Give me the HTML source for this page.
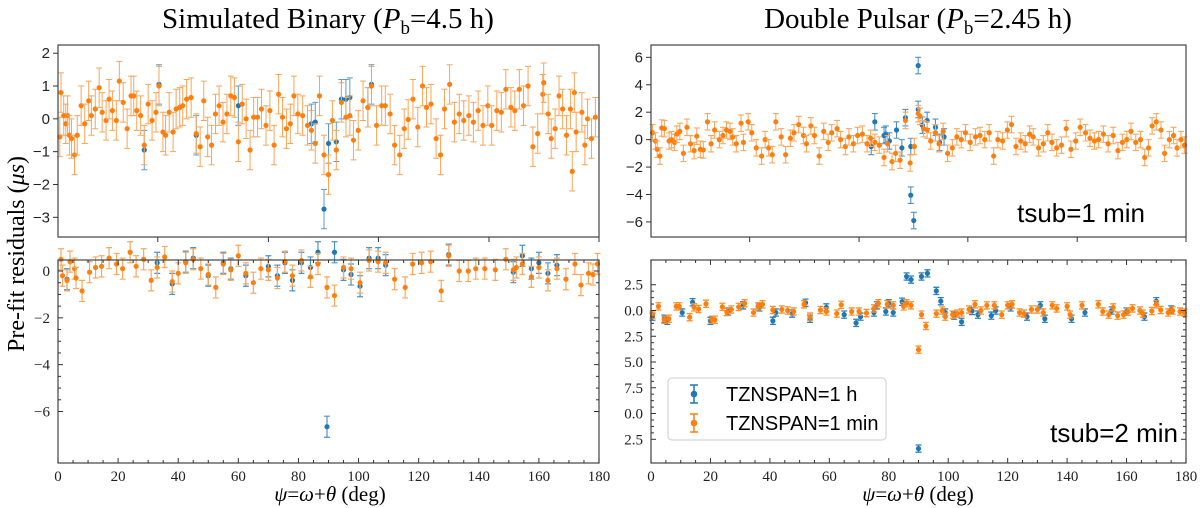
<!DOCTYPE html>
<html><head><meta charset="utf-8">
<style>
html,body{margin:0;padding:0;background:#fff;}
svg{display:block;}
.serif{font-family:"Liberation Serif","DejaVu Serif",serif;}
.sans{font-family:"Liberation Sans","DejaVu Sans",sans-serif;}
</style></head>
<body>
<svg id="fig" width="1200" height="508" viewBox="0 0 1200 508" xmlns="http://www.w3.org/2000/svg">
<text x="328" y="28" text-anchor="middle" class="serif" font-size="29">Simulated Binary (<tspan font-style="italic">P</tspan><tspan font-size="19" dy="6">b</tspan><tspan dy="-6">=4.5 h)</tspan></text>
<text x="918" y="28" text-anchor="middle" class="serif" font-size="29">Double Pulsar (<tspan font-style="italic">P</tspan><tspan font-size="19" dy="6">b</tspan><tspan dy="-6">=2.45 h)</tspan></text>
<text transform="translate(24,254) rotate(-90)" text-anchor="middle" class="serif" font-size="24">Pre-fit residuals (<tspan font-style="italic">μs</tspan>)</text>
<text x="330" y="501" text-anchor="middle" class="serif" font-size="21"><tspan font-style="italic">ψ</tspan>=<tspan font-style="italic">ω</tspan>+<tspan font-style="italic">θ</tspan> (deg)</text>
<text x="918" y="501" text-anchor="middle" class="serif" font-size="21"><tspan font-style="italic">ψ</tspan>=<tspan font-style="italic">ω</tspan>+<tspan font-style="italic">θ</tspan> (deg)</text>
</svg>
<script>
// ---- Panel A: simulated binary, tsub top ----
const aOrangeX=[0.6,1.0,1.9,2.6,3.2,3.8,4.5,5.5,6.4,7.7,8.9,10.2,11.1,12.4,13.7,14.7,16.0,17.0,18.1,19.4,20.4,21.7,23.0,24.3,25.2,26.2,27.5,28.7,30.0,31.3,32.6,33.6,34.9,35.8,37.0,38.3,39.3,40.5,41.5,42.8,44.3,46.0,47.3,48.5,49.8,51.1,52.4,53.6,54.9,56.2,57.5,58.7,60.0,61.3,62.6,63.9,65.1,66.4,67.7,69.2,70.5,71.9,73.4,74.7,76.0,77.3,78.5,79.8,81.4,83.0,84.3,85.6,87.0,88.5,90.0,91.3,92.6,94.3,95.8,97.1,98.3,99.9,101.5,103.1,104.3,106.0,107.7,108.9,110.5,112.0,113.7,115.2,116.5,118.1,119.7,121.3,122.6,124.1,125.8,127.3,128.6,130.3,131.9,133.5,135.0,136.7,138.2,139.8,141.4,143.0,144.3,146.0,147.5,149.0,150.7,152.0,153.5,154.9,156.4,158.0,159.6,161.3,161.6,163.1,164.1,165.4,166.7,167.9,169.2,170.5,171.1,171.8,172.4,174.3,175.3,176.2,177.5,178.8];
const aOrangeY=[-0.55,0.8,0.1,-0.15,0.1,-0.5,-0.6,-1.1,-0.5,0.4,-0.15,0.55,0.1,0.3,0.95,0.2,-0.05,0.6,0.25,-0.05,1.15,0.5,-0.3,0.7,0.7,0.25,0.1,-0.8,0.45,-0.05,0.2,1.0,-0.4,-0.5,0.2,-0.4,0.3,0.35,0.4,0.6,0.65,-0.45,-0.85,0.55,-0.55,-0.8,0.15,0.4,-0.1,0.15,0.7,0.65,-0.7,0.45,0.0,-0.95,0.05,0.05,0.3,-0.2,0.25,-0.8,0.75,0.05,-0.3,-0.15,0.7,0.15,0.1,-0.2,-0.35,-0.75,0.7,-1.1,-1.7,-0.05,-0.95,0.5,0.05,0.1,-0.65,-0.35,0.55,0.35,1.0,-0.2,0.4,0.4,0.15,-0.8,-1.1,-0.3,-0.02,0.6,-0.25,1.0,0.35,0.45,-0.6,-1.1,0.3,1.05,-0.1,0.15,-0.05,0.1,-0.1,0.25,-0.2,0.4,-0.2,0.25,0.2,0.9,0.35,0.25,0.9,0.4,1.0,-0.85,-0.45,0.75,1.1,0.15,-0.6,-0.3,0.7,0.3,-0.5,0.3,-1.6,0.8,-0.4,0.2,-0.8,0.0,-0.6,0.05];
const aBlueX=[28.7,84.3,85.6,88.5,90.0,92.6,94.3,95.8,97.1,103.1,104.3,33.6,46.0,60.0];
const aBlueY=[-0.95,-0.15,-0.1,-2.75,-0.75,-0.7,0.6,0.6,0.65,0.35,1.05,1.05,-0.5,0.4];
const aErr=0.6;
const aYTicks=[2,1,0,-1,-2,-3];
const aYLabels=["2","1","0","−1","−2","−3"];

// ---- Panel B: simulated binary bottom ----
const bOrangeX=[1,1.5,3,4,5.5,6,8,10.5,12.5,14.5,17,19.5,21.5,24,26,28.5,31,33,35.5,38,40,42.5,45,47.5,50,52.5,55,57.5,60,62.5,65,67.5,70,73,75.5,78,81,84,86.5,89.5,92,95,97.5,100.5,103.5,106.5,109,112,115.5,118,121,124,127.5,130,133.5,136.5,139,142,145.5,149,151.5,152.5,154.5,157.5,160,163,166,169,172,174,176.5,178,179.5];
const bOrangeY=[0.5,-0.2,-0.4,0.4,0.1,-0.3,-0.85,-0.05,0.15,0.2,0.55,0.3,0.1,0.8,0.2,0.5,-0.4,0.15,0.6,-0.45,-0.1,0.35,0.5,0.1,-0.15,-0.7,0.3,0.05,0.65,-0.1,-0.5,0.1,0.05,-0.3,0.4,-0.2,0.45,-0.25,0.3,-0.7,-1.05,0.15,0.1,-0.5,0.45,0.4,0.35,-0.35,-0.7,0.3,0.35,0.4,-0.85,0.65,0.0,0.0,0.1,0.1,0.05,0.5,0.05,0.15,0.3,-0.25,0.15,-0.4,0.1,-0.35,0.3,-0.6,-0.1,-0.15,0.3];
const bBlueX=[3,33,38,42.5,45,50,55,57.5,62.5,70,73,75.5,78,81,84,86.5,89.5,92,95,97.5,100.5,103.5,106.5,109,130,151.5,154.5,157.5,160,163,166];
const bBlueY=[-0.35,0.35,-0.55,0.4,0.55,-0.2,0.35,0.1,-0.2,0.2,-0.2,0.35,-0.4,0.35,0.15,0.8,-6.65,0.8,0.05,-0.15,-0.65,0.55,0.55,0.25,0.7,-0.05,0.65,0.1,0.35,-0.1,0.25];
const bErr=0.45;
const bYTicks=[0,-2,-4,-6];
const bYLabels=["0","−2","−4","−6"];

// ---- Panel C: double pulsar tsub=1 min ----
const cOrangeX=[0.5,1.5,2.1,3.0,3.6,4.5,6.1,6.9,7.9,8.7,9.7,10.9,12.1,13.3,14.5,15.4,16.6,17.6,19.0,20.2,21.4,23.0,24.2,25.4,26.6,27.5,28.7,30.3,31.1,32.7,33.9,35.4,37.2,38.4,39.6,40.8,42.0,43.8,45.3,46.9,48.1,49.7,51.3,52.3,53.8,55.0,56.6,58.1,59.6,60.8,62.6,63.8,65.4,66.6,68.1,69.5,71.1,72.7,73.9,75.3,76.8,78.4,79.6,81.1,82.3,83.8,85.6,87.2,88.6,89.9,90.5,91.7,92.9,94.1,95.7,96.9,98.3,99.8,101.4,102.9,104.4,105.8,107.4,109.2,110.7,112.3,113.8,115.3,116.7,118.3,119.9,121.3,122.8,124.4,125.9,127.4,128.6,130.4,132.0,133.5,134.9,136.5,138.1,139.7,141.3,142.9,144.4,146.2,147.7,149.2,150.6,152.2,153.8,155.5,157.1,158.6,160.1,161.5,163.1,164.7,166.1,167.4,168.6,170.0,171.6,172.8,174.4,175.8,177.0,178.3,179.5];
const cOrangeY=[0.5,-0.1,-0.7,-1.2,0.85,0.8,-0.1,0.0,-0.2,0.4,0.6,-1.0,0.9,-0.3,-0.8,0.25,-0.7,-0.75,1.3,-0.3,0.7,0.0,0.3,0.7,0.6,0.2,-0.3,1.2,-0.2,1.3,0.5,-0.6,-1.2,0.0,-0.6,-1.1,1.3,0.2,-1.1,0.1,0.5,1.1,0.3,-0.3,1.0,0.3,-1.2,0.6,-0.2,0.5,0.8,0.0,-0.5,0.2,-0.3,0.3,0.4,-0.3,0.1,-0.2,-0.4,-1.3,-0.3,-1.6,-1.0,-1.5,1.4,-1.7,-0.5,1.9,1.7,0.8,0.7,-0.1,0.5,-0.3,0.6,-1.0,-0.6,0.2,0.0,0.5,-0.2,0.2,0.3,0.0,0.5,-1.2,0.0,-0.1,0.7,1.1,-0.5,-0.1,-0.3,0.4,0.2,-0.6,-0.3,0.5,-0.2,-0.6,-0.4,0.8,-0.7,-0.1,0.9,0.5,0.1,-0.1,0.0,0.4,-0.3,0.3,-0.8,-0.2,0.0,0.6,-0.2,0.0,-1.3,-0.6,1.0,1.3,0.7,-1.0,0.0,0.3,-0.6,0.0,-0.4];
const cBlueX=[74.1,75.3,78.4,79.0,80.2,82.6,84.4,85.6,87.4,88.4,89.9,89.9,91.3,92.9,95.7,97.1,98.6,87.4];
const cBlueY=[-0.5,1.3,0.3,0.4,-0.1,0.7,-0.6,1.6,-4.05,-5.9,5.4,2.2,1.05,1.4,0.9,-0.2,0.2,-0.5];
const cErr=0.6;
const cYTicks=[6,4,2,0,-2,-4,-6];
const cYLabels=["6","4","2","0","−2","−4","−6"];

// ---- Panel D: double pulsar tsub=2 min ----
const dOrangeX=[0.5,2.5,4.5,6,8.5,9.5,13,14.5,16,18.5,20.5,21.5,24,25.5,27,29.5,31.5,34.5,36,37.5,41,44,46,48,51.5,53.5,57,59,62.5,64,67.5,70,72.5,75,76.5,79.5,81.5,85,86,87.5,90,91,92.5,96,98,99,101.5,103,104.5,107,109,111,113,115.5,118,120,121.5,124,125.5,128,130,132,135,136.5,140,141,145,150.5,152,154,155.5,157,159,160.5,162,164.5,165.5,168.5,170,171.5,174,175.5,178,179.5];
const dOrangeY=[-0.4,0.4,-0.9,-0.8,0.4,0.4,-0.65,0.3,0.15,0.65,-0.9,-0.9,0.35,-0.15,0.1,0.35,0.7,-0.2,0.4,0.6,0.05,0.1,0.0,-0.1,0.6,-0.6,0.05,-0.1,-0.3,0.55,-0.1,-0.1,-0.25,0.2,0.7,0.6,0.5,0.4,0.7,0.5,-3.8,-0.4,-1.5,-0.3,0.0,-0.6,-0.4,-0.3,-0.2,0.1,0.6,0.0,0.5,0.5,-0.4,0.5,0.6,-0.2,-0.3,0.1,0.1,-0.2,0.5,0.2,0.4,-0.4,0.5,0.6,-0.1,-0.4,0.3,-0.5,-0.4,-0.1,0.2,0.0,-0.3,-0.05,0.6,0.05,-0.2,0.0,-0.1,-0.2];
const dBlueX=[0.5,4.5,5.5,10.5,14,20,26,31,36.5,41,42,47.5,52,53.5,59,65,69,70.5,75,76,79,80,81.5,84.5,86,87.5,90,91,93,96,97.5,99,102,104.5,108,110,114.5,116,121,126.5,131,132.5,141.5,146,155,160,166,170,175];
const dBlueY=[-0.6,-0.8,-1.0,-0.2,0.8,-1.0,-0.1,0.5,0.3,-1.0,-0.2,-0.3,0.75,-0.8,0.3,-0.4,-1.2,-0.6,-0.2,0.5,-0.1,0.7,-0.2,0.85,3.3,3.0,-13.4,3.3,3.6,1.9,0.9,-0.2,-0.5,-1.1,-0.05,-0.4,-0.5,0.0,0.3,-0.6,0.5,-0.8,-0.8,-0.2,0.0,-0.1,-0.6,0.9,0.1];
const dErr=0.35;
const dYTicks=[2.5,0,-2.5,-5,-7.5,-10,-12.5];
const dYLabels=["2.5","0.0","2.5","5.0","7.5","0.0","2.5"];

const xTicks=[0,20,40,60,80,100,120,140,160,180];
const xTopTicks=[33.2,70,106.6,143.4,180];

const NS="http://www.w3.org/2000/svg";
const fig=document.getElementById('fig');
function mk(tag,attrs,parent){const e=document.createElementNS(NS,tag);for(const k in attrs)e.setAttribute(k,attrs[k]);(parent||fig).appendChild(e);return e;}

function panel(id,box,yMin,yMax,yTicks,yLabels,series,err,opt){
  const g=mk('g',{});
  
  
  const sx=v=>box.x0+(v-0)/180*(box.x1-box.x0);
  const sy=v=>box.y1-(v-yMin)/(yMax-yMin)*(box.y1-box.y0);
  series.forEach(s=>{
    const sg=mk('g',{},g);
    
    
    for(let i=0;i<s.xs.length;i++){
      const cx=sx(s.xs[i]),cy=sy(s.ys[i]);
      const t=sy(s.ys[i]+err),b=sy(s.ys[i]-err);
      const eb=mk('path',{d:`M${cx},${t}V${b}M${cx-opt.cap},${t}H${cx+opt.cap}M${cx-opt.cap},${b}H${cx+opt.cap}`,stroke:s.ecol,'stroke-width':opt.ew,fill:'none'},sg);
      
      
      const c=mk('circle',{cx:cx,cy:cy,r:opt.r,fill:s.col},sg);
      
      
    }
  });
  const fr=mk('rect',{x:box.x0,y:box.y0,width:box.x1-box.x0,height:box.y1-box.y0,fill:'none',stroke:'#444','stroke-width':1.2},g);
  
  
  const dir=opt.inward?-1:1;
  yTicks.forEach((v,i)=>{
    const y=sy(v);
    mk('line',{x1:box.x0,x2:box.x0-5*dir,y1:y,y2:y,stroke:'#333'},g);
    if(opt.inward) mk('line',{x1:box.x1,x2:box.x1-5,y1:y,y2:y,stroke:'#333'},g);
    const t=mk('text',{x:box.x0-8,y:y+5,'text-anchor':'end','font-size':opt.fs,class:opt.font,fill:'#222'},g);
    t.textContent=yLabels[i];
    
    
  });
  if(opt.inward){
    for(let k=0;k<yTicks.length-1;k++){
      const st=(yTicks[k+1]-yTicks[k])/4;
      for(let j=1;j<4;j++){const y=sy(yTicks[k]+st*j);mk('line',{x1:box.x0,x2:box.x0+3,y1:y,y2:y,stroke:'#333'},g);mk('line',{x1:box.x1,x2:box.x1-3,y1:y,y2:y,stroke:'#333'},g);}
    }
  }
  if(opt.xlabels){
    xTicks.forEach(v=>{
      const x=sx(v);
      mk('line',{x1:x,x2:x,y1:box.y1,y2:box.y1+5*dir,stroke:'#333'},g);
      if(opt.inward) mk('line',{x1:x,x2:x,y1:box.y0,y2:box.y0+5,stroke:'#333'},g);
      const t=mk('text',{x:x,y:box.y1+18,'text-anchor':'middle','font-size':15,class:'serif',fill:'#222'},g);
      t.textContent=String(v);
      
      
    });
    if(opt.inward){for(let v=5;v<180;v+=5){if(v%20===0)continue;const x=sx(v);mk('line',{x1:x,x2:x,y1:box.y1,y2:box.y1-3,stroke:'#333'},g);mk('line',{x1:x,x2:x,y1:box.y0,y2:box.y0+3,stroke:'#333'},g);}}
  } else {
    xTopTicks.forEach(v=>{const x=sx(v);mk('line',{x1:x,x2:x,y1:box.y1,y2:box.y1+5,stroke:'#333'},g);});
  }
  return g;
}

const BLUE='#1f77b4',ORANGE='#ff7f0e';
panel('panel-simulated-top',{x0:58,x1:599,y0:45,y1:237},-3.6,2.25,aYTicks,aYLabels,
 [{name:'series-tznspan-1h',xs:aBlueX,ys:aBlueY,col:BLUE,ecol:'#5b9bd0'},{name:'series-tznspan-1min',xs:aOrangeX,ys:aOrangeY,col:ORANGE,ecol:'#f8a55a'}],aErr,{cap:3,ew:1,r:2.6,fs:15,font:'sans',inward:false,xlabels:false});
panel('panel-simulated-bottom',{x0:58,x1:599,y0:260,y1:463},-8.2,0.47,bYTicks,bYLabels,
 [{name:'series-tznspan-1h',xs:bBlueX,ys:bBlueY,col:BLUE,ecol:'#4d93c8'},{name:'series-tznspan-1min',xs:bOrangeX,ys:bOrangeY,col:ORANGE,ecol:'#f9a860'}],bErr,{cap:3,ew:1.2,r:2.6,fs:15,font:'serif',inward:true,xlabels:true});
panel('panel-pulsar-top',{x0:651,x1:1186,y0:45,y1:237},-7.1,6.9,cYTicks,cYLabels,
 [{name:'series-tznspan-1h',xs:cBlueX,ys:cBlueY,col:BLUE,ecol:'#4d93c8'},{name:'series-tznspan-1min',xs:cOrangeX,ys:cOrangeY,col:ORANGE,ecol:'#f9a860'}],cErr,{cap:3,ew:1.1,r:2.6,fs:15,font:'sans',inward:false,xlabels:false});
panel('panel-pulsar-bottom',{x0:651,x1:1186,y0:260,y1:463},-14.8,4.9,dYTicks,dYLabels,
 [{name:'series-tznspan-1h',xs:dBlueX,ys:dBlueY,col:BLUE,ecol:'#2f80bd'},{name:'series-tznspan-1min',xs:dOrangeX,ys:dOrangeY,col:ORANGE,ecol:'#fb8f2a'}],dErr,{cap:3,ew:1.3,r:2.6,fs:15,font:'serif',inward:true,xlabels:true});

const t1=mk('text',{x:1145,y:222,'text-anchor':'end','font-size':26,class:'sans'});
t1.textContent='tsub=1 min';


const t2=mk('text',{x:1178,y:442,'text-anchor':'end','font-size':26,class:'sans'});
t2.textContent='tsub=2 min';



const lg=mk('g',{});


mk('rect',{x:668,y:378,width:218,height:62,rx:4,fill:'#fff','fill-opacity':0.85,stroke:'#ccc'},lg);
const legItems=[{label:'TZNSPAN=1 h',col:BLUE,y:394},{label:'TZNSPAN=1 min',col:ORANGE,y:423}];
legItems.forEach(it=>{
  const e=mk('g',{},lg);
  
  
  mk('path',{d:`M694,${it.y-9}V${it.y+9}M690,${it.y-9}H698M690,${it.y+9}H698`,stroke:it.col,'stroke-width':1.5,fill:'none'},e);
  mk('circle',{cx:694,cy:it.y,r:3.3,fill:it.col},e);
  const t=mk('text',{x:726,y:it.y+7,'font-size':20,class:'sans'},e);
  t.textContent=it.label;
});
</script>
</body></html>
